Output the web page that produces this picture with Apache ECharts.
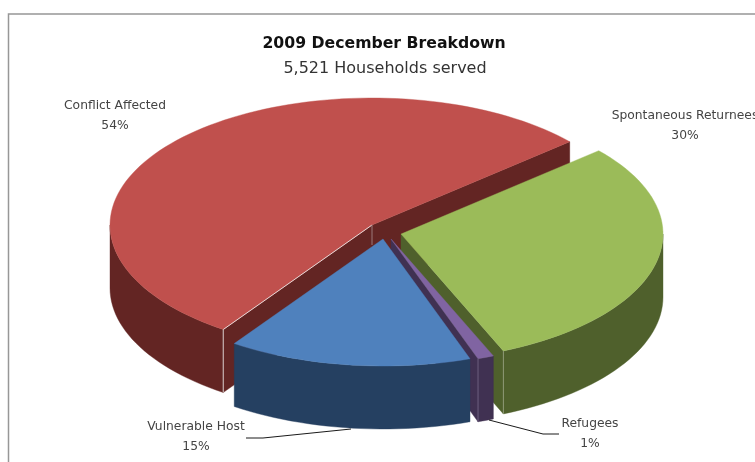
<!DOCTYPE html>
<html>
<head>
<meta charset="utf-8">
<style>html,body{margin:0;padding:0;background:#fff}#main{width:755px;height:462px}</style>
<script src="https://cdn.jsdelivr.net/npm/echarts@6/dist/echarts.min.js"></script>
</head>
<body>
<div id="main"></div>
<script>
var categories = ['Conflict Affected', 'Spontaneous Returnees', 'Refugees', 'Vulnerable Host'];
var percents = [54, 30, 1, 15];

// look of each slice, same order as categories
var topColors = ['#c0504d', '#9bbb59', '#8064a2', '#4f81bd'];
var sideColors = ['#632523', '#4f602c', '#403152', '#254061'];
var seamColors = ['#d8cccb', '#8f9a78', '#6d6080', null];
var apexes = [[372, 225], [401, 234], [391, 239], [383, 239]];
var labelPos = [[115, 116], [685, 126], [590, 434], [196, 437]];
var leaders = [null, null,
  [[489, 420], [543, 434], [559, 434]],
  [[246, 438], [263, 438], [351, 429]]];

var rx = 262, ry = 127, depth = 63, firstAngle = 235.4;
var labelFont = 'DejaVu Sans';
var total = percents.reduce(function (a, b) { return a + b; }, 0);

function rim(c, deg, dy) {
  var r = deg * Math.PI / 180;
  return [c[0] + rx * Math.cos(r), c[1] - ry * Math.sin(r) + (dy || 0)];
}
function arc(c, from, to, dy) {
  var pts = [], n = Math.max(2, Math.ceil(Math.abs(to - from) / 2));
  for (var i = 0; i <= n; i++) pts.push(rim(c, from + (to - from) * i / n, dy));
  return pts;
}
function poly(points, fill) {
  return {type: 'polygon', shape: {points: points}, style: {fill: fill, stroke: fill, lineWidth: 0.4}};
}
function line(points, color, w) {
  return {type: 'polyline', shape: {points: points}, style: {fill: null, stroke: color, lineWidth: w}};
}

function renderSlice(params, api) {
  var i = params.dataIndex;
  var before = 0;
  for (var k = 0; k < i; k++) before += percents[k];
  var hi = firstAngle - before / total * 360;
  var lo = hi - api.value(0) / total * 360;
  var c = apexes[i], kids = [];

  // flat cut walls, only the ones facing the viewer
  [hi, lo].forEach(function (a, n) {
    var cos = Math.cos(a * Math.PI / 180);
    if (n === 0 ? cos < 0 : cos > 0) {
      var e = rim(c, a);
      kids.push(poly([c, e, [e[0], e[1] + depth], [c[0], c[1] + depth]], sideColors[i]));
    }
  });
  // outer wall on the front half
  for (var t = -1; t <= 1; t++) {
    var a0 = Math.max(lo, 180 + 360 * t), a1 = Math.min(hi, 360 + 360 * t);
    if (a1 > a0) {
      kids.push(poly(arc(c, a0, a1).concat(arc(c, a1, a0, depth)), sideColors[i]));
    }
  }
  // top
  kids.push(poly([c].concat(arc(c, hi, lo)), topColors[i]));

  // seams
  if (seamColors[i]) {
    var corner = rim(c, Math.cos(hi * Math.PI / 180) < 0 ? hi : lo);
    kids.push(line([corner, [corner[0], corner[1] + depth]], seamColors[i], 1));
    if (i === 0) {
      kids.push(line([c, corner], '#e6d5d4', 1));
      kids.push(line([c, [c[0], c[1] + 20]], '#9c7b7a', 1));
    }
  }
  if (leaders[i]) kids.push(line(leaders[i], '#1a1a1a', 1));
  kids.push({
    type: 'text',
    x: labelPos[i][0], y: labelPos[i][1],
    style: {
      text: categories[i] + '\n' + api.value(0) + '%',
      align: 'center', verticalAlign: 'middle',
      font: '12.3px "' + labelFont + '"', lineHeight: 20, fill: '#444'
    }
  });
  return {type: 'group', children: kids};
}

var chart = echarts.init(document.getElementById('main'), null, {renderer: 'canvas'});
chart.setOption({
  backgroundColor: '#fff',
  animation: false,
  title: [
    {text: '2009 December Breakdown', left: 379, top: 31, textAlign: 'center',
      textStyle: {fontFamily: labelFont, fontWeight: 'bold', fontSize: 15.7, color: '#111'}},
    {text: '5,521 Households served', left: 380, top: 56, textAlign: 'center',
      textStyle: {fontFamily: labelFont, fontWeight: 'normal', fontSize: 16, color: '#333'}}
  ],
  graphic: [{
    type: 'rect', silent: true, z: -1,
    shape: {x: 8.5, y: 14, width: 800, height: 500},
    style: {fill: '#fff', stroke: '#979797', lineWidth: 1.5}
  }],
  series: [{
    type: 'custom',
    coordinateSystem: 'none',
    renderItem: renderSlice,
    data: percents.map(function (v, i) { return {name: categories[i], value: [v]}; })
  }]
});
</script>
</body>
</html>
